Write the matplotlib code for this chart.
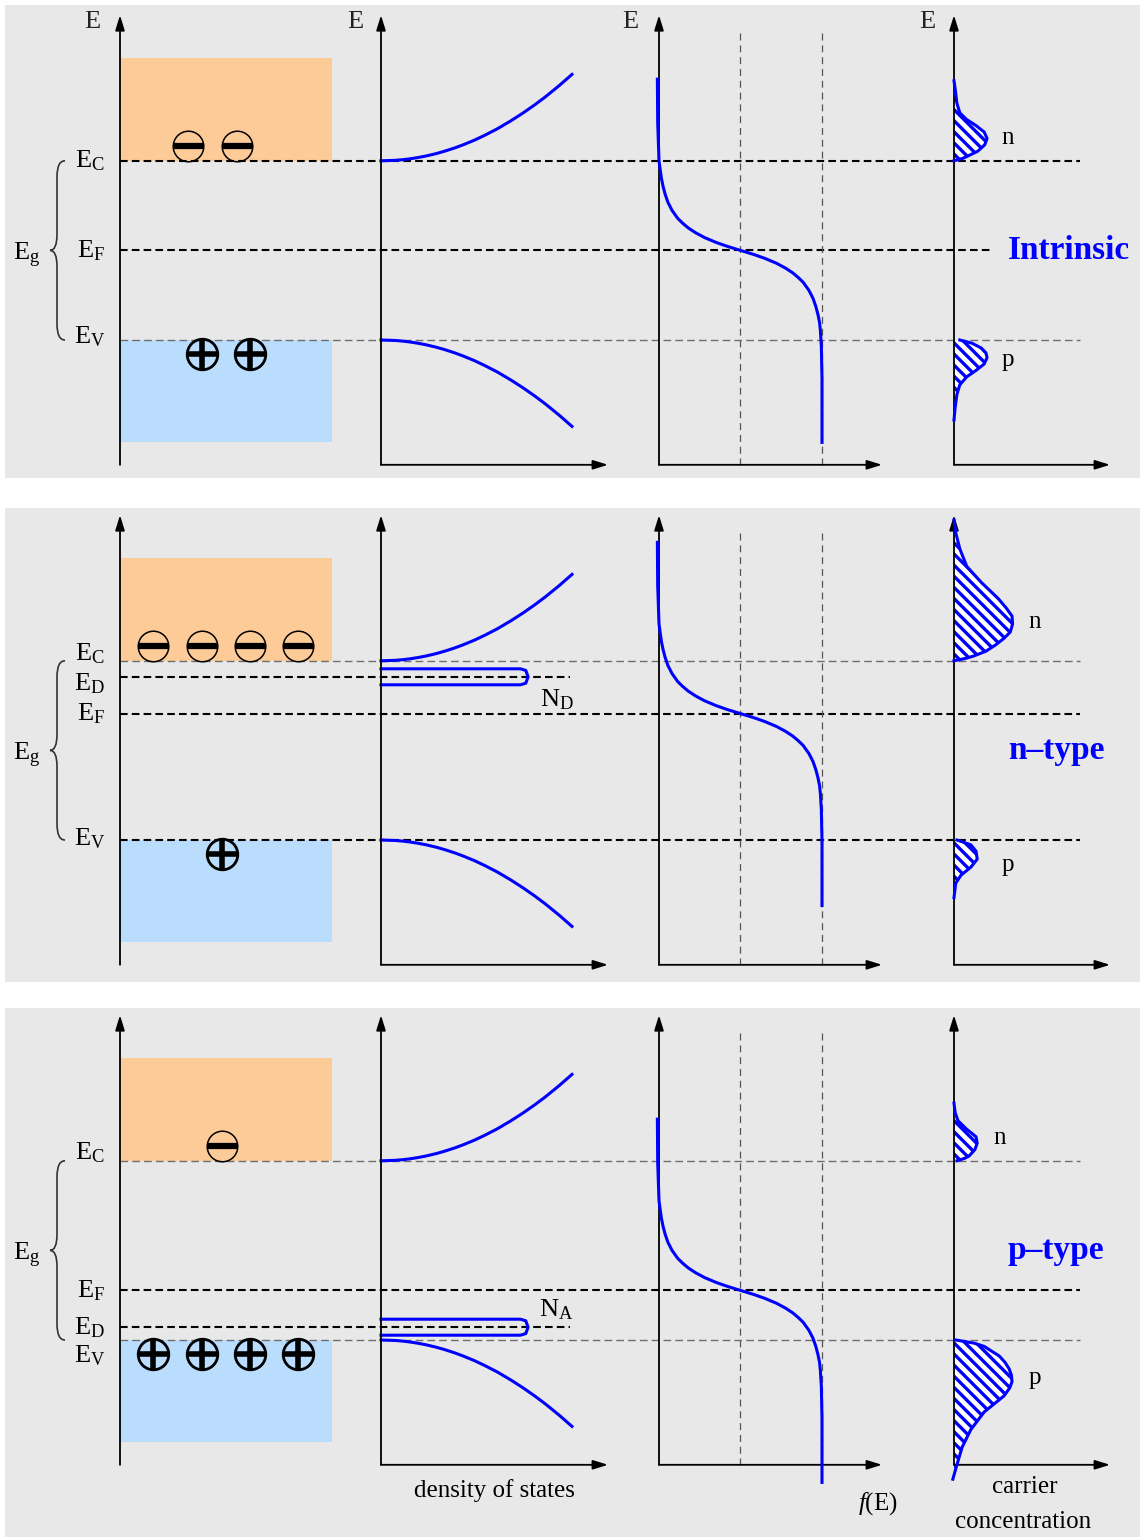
import matplotlib.pyplot as plt
from matplotlib.patches import Rectangle, PathPatch
from matplotlib.path import Path

plt.rcParams['font.family'] = ['Liberation Serif', 'DejaVu Serif']
plt.rcParams['mathtext.fontset'] = 'custom'
plt.rcParams['mathtext.rm'] = 'Liberation Serif'
plt.rcParams['mathtext.it'] = 'Liberation Serif:italic'
plt.rcParams['lines.scale_dashes'] = False
plt.rcParams['hatch.color'] = 'blue'
plt.rcParams['hatch.linewidth'] = 2.4

# ---------------- data (energies in eV, valence band edge E_V = 0) ----------------
panel_names = ['Intrinsic', 'n\u2013type', 'p\u2013type']
E_c = [1.12, 1.12, 1.12]
E_f = [0.56, 0.79, 0.31]
E_imp = [None, 1.02, 0.08]           # donor / acceptor level
imp_labels = [None, r'N$_\mathrm{D}$', r'N$_\mathrm{A}$']
imp_dos = 0.77                        # extent of impurity states (arb.)

# density of states vs distance from band edge
dos_dE = [0, 0.003, 0.007, 0.012, 0.02, 0.03, 0.045, 0.06, 0.08, 0.1, 0.13, 0.16,
          0.2, 0.25, 0.3, 0.35, 0.4, 0.47, 0.54]
dos_g = [0, 0.075, 0.114, 0.149, 0.192, 0.236, 0.289, 0.333, 0.385, 0.430, 0.491, 0.544,
         0.609, 0.680, 0.745, 0.805, 0.861, 0.933, 1.0]

# Fermi function vs E - E_F
fermi_dE = [1.07, 0.8, 0.65, 0.56, 0.5, 0.45, 0.4, 0.35, 0.3, 0.25, 0.2, 0.17, 0.14, 0.11,
            0.08, 0.05, 0.025, 0.0, -0.025, -0.05, -0.08, -0.11, -0.14, -0.17, -0.2,
            -0.25, -0.3, -0.35, -0.4, -0.45, -0.5, -0.6, -0.8, -1.2]
fermi_f = [-0.01, -0.008, -0.003, 0.0, 0.008, 0.015, 0.025, 0.038, 0.055, 0.08, 0.115,
           0.145, 0.18, 0.225, 0.28, 0.35, 0.42, 0.5, 0.58, 0.65, 0.72, 0.775, 0.82,
           0.855, 0.885, 0.92, 0.945, 0.962, 0.975, 0.985, 0.99, 0.996, 1.0, 1.0]

# carrier concentration (electrons above E_C, holes below E_V)
n_dE = [[0, 0.015, 0.03, 0.06, 0.1, 0.14, 0.18, 0.22, 0.26, 0.3, 0.36, 0.45, 0.5],
        [0, 0.015, 0.03, 0.06, 0.1, 0.14, 0.18, 0.23, 0.28, 0.33, 0.39, 0.49, 0.59, 0.7, 0.8, 0.88],
        [0, 0.015, 0.03, 0.07, 0.11, 0.15, 0.2, 0.25, 0.3, 0.36]]
n_val = [[0, 0.15, 0.24, 0.41, 0.53, 0.57, 0.52, 0.38, 0.21, 0.10, 0.05, 0.02, 0],
         [0, 0.2, 0.34, 0.55, 0.72, 0.86, 0.97, 1.01, 1.0, 0.9, 0.76, 0.47, 0.22, 0.10, 0.03, 0],
         [0.05, 0.18, 0.26, 0.36, 0.40, 0.38, 0.21, 0.07, 0.02, 0]]
p_dE = [[0, 0.02, 0.05, 0.08, 0.11, 0.15, 0.19, 0.23, 0.28, 0.34, 0.42, 0.5],
        [0, 0.03, 0.07, 0.12, 0.17, 0.22, 0.27, 0.36],
        [0, 0.02, 0.04, 0.1, 0.14, 0.18, 0.22, 0.26, 0.3, 0.35, 0.45, 0.56, 0.67, 0.78, 0.87]]
p_val = [[0.10, 0.31, 0.47, 0.55, 0.57, 0.52, 0.38, 0.22, 0.10, 0.05, 0.02, 0],
         [0.05, 0.29, 0.38, 0.40, 0.29, 0.12, 0.03, 0],
         [0.03, 0.35, 0.52, 0.78, 0.88, 0.95, 0.99, 1.0, 0.96, 0.86, 0.52, 0.29, 0.14, 0.05, -0.02]]

# electrons / holes drawn in the band diagram (x positions)
e_x = [[188, 237], [153, 202, 250, 298], [222]]
h_x = [[202, 250], [222], [153, 202, 250, 298]]

# ---------------- layout (pixels) ----------------
W, H = 1142, 1539
PX_EV = 160
X0, X1 = 5, 1140
panel_top = [5, 508, 1008]
panel_bot = [478, 982, 1537]
ev_pix = [340, 840, 1340]
AX_BOT, AX_TOP = -0.78, 2.03
BG = '#e8e8e8'
ORANGE = '#fdcb98'
LBLUE = '#badcfd'
BLUE = '#0000ff'

# per panel level label offsets and dash styles
label_rows = [
    [('C', 'c', 0.0), ('F', 'f', 0.0), ('V', 'v', 0.02)],
    [('C', 'c', 0.045), ('D', 'i', -0.045), ('F', 'f', 0.0), ('V', 'v', 0.01)],
    [('C', 'c', 0.05), ('F', 'f', 0.0), ('D', 'i', 0.0), ('V', 'v', -0.1)],
]
line_styles = [
    {'c': 'k', 'f': 'k', 'v': 'g'},
    {'c': 'g', 'i': 'k', 'f': 'k', 'v': 'k'},
    {'c': 'g', 'f': 'k', 'i': 'k', 'v': 'g'},
]
n_lab = [(1008, 0.14), (1035, 0.245), (1000, 0.145)]
p_lab = [(1008, -0.125), (1008, -0.155), (1035, -0.24)]


def arrow(ax, xa, ya, xb, yb):
    ax.annotate('', xy=(xb, yb), xytext=(xa, ya), annotation_clip=False,
                arrowprops=dict(arrowstyle='-|>,head_length=0.9,head_width=0.28',
                                color='black', lw=1.3, shrinkA=0, shrinkB=0))


def hline(ax, x_a, x_b, e, kind):
    if kind == 'k':
        ax.plot([x_a, x_b], [e, e], color='black', lw=1.5, dashes=(5.5, 3.0), zorder=2)
    else:
        ax.plot([x_a, x_b], [e, e], color='#6e6e6e', lw=1.0, dashes=(5.5, 3.0), zorder=2)


fig = plt.figure(figsize=(W / 100, H / 100), dpi=100)

for i in range(3):
    top, bot, evp = panel_top[i], panel_bot[i], ev_pix[i]
    ylim = ((evp - bot) / PX_EV, (evp - top) / PX_EV)
    ax = fig.add_axes([X0 / W, 1 - bot / H, (X1 - X0) / W, (bot - top) / H])
    ax.set_xlim(X0, X1)
    ax.set_ylim(*ylim)
    ax.axis('off')
    ax.add_patch(Rectangle((X0, ylim[0]), X1 - X0, ylim[1] - ylim[0], color=BG, zorder=0))

    ec, ef, ev = E_c[i], E_f[i], 0.0
    levels = {'c': ec, 'f': ef, 'v': ev, 'i': E_imp[i]}

    # bands
    ax.add_patch(Rectangle((120, ec), 212, 0.64, color=ORANGE, lw=0, zorder=1))
    ax.add_patch(Rectangle((120, ev - 0.64), 212, 0.64, color=LBLUE, lw=0, zorder=1))

    # level lines
    for key, kind in line_styles[i].items():
        e = levels[key]
        if key == 'i':
            x_end = 570
        elif i == 0 and key == 'f':
            x_end = 990
        else:
            x_end = 1080
        hline(ax, 120, x_end, e, kind)

    # level labels
    for sub, key, off in label_rows[i]:
        ax.text(105, levels[key] + off, r'E$_\mathrm{%s}$' % sub, fontsize=19,
                ha='right', va='center', zorder=5)

    # band gap brace
    mid = ec / 2
    d = 0.1
    verts = [(65, ec), (57, ec), (57, ec - d), (57, mid + d), (57, mid), (50, mid),
             (57, mid), (57, mid - d), (57, ev + d), (57, ev), (65, ev)]
    codes = [Path.MOVETO, Path.CURVE3, Path.CURVE3, Path.LINETO, Path.CURVE3, Path.CURVE3,
             Path.CURVE3, Path.CURVE3, Path.LINETO, Path.CURVE3, Path.CURVE3]
    ax.add_patch(PathPatch(Path(verts, codes), fill=False, lw=1.2, color='#333333', zorder=3))
    ax.text(27, mid - 0.03, r'E$_\mathrm{g}$', fontsize=19, ha='center', va='center')

    # electrons and holes
    ey = [ec + 0.09] * len(e_x[i])
    hy = [ev - 0.09] * len(h_x[i])
    ax.plot(e_x[i], ey, 'o', ms=22, mfc='none', mec='black', mew=1.1, zorder=4)
    ax.plot(e_x[i], ey, '_', ms=22, mew=4.5, color='black', zorder=4)
    ax.plot(h_x[i], hy, 'o', ms=22, mfc='none', mec='black', mew=2.0, zorder=4)
    ax.plot(h_x[i], hy, '+', ms=22, mew=4.0, color='black', zorder=4)

    # first column axis
    arrow(ax, 120, AX_BOT, 120, AX_TOP)

    # type label
    ax.text(1008, mid, panel_names[i], fontsize=24, fontweight='bold', color=BLUE,
            ha='left', va='center', zorder=5)

    if i == 0:
        for xe in [92, 355, 630, 927]:
            ax.text(xe, 1.99, 'E', fontsize=19, ha='center', va='center', color='#222222')

    pad = 40

    def col_axes(xpix, wpix, ppu):
        ca = fig.add_axes([(xpix - pad) / W, 1 - bot / H, (wpix + 2 * pad) / W, (bot - top) / H])
        ca.set_xlim(-pad / ppu, (wpix + pad) / ppu)
        ca.set_ylim(*ylim)
        ca.axis('off')
        arrow(ca, 0, AX_BOT, 0, AX_TOP)
        arrow(ca, 0, AX_BOT, wpix / ppu, AX_BOT)
        return ca

    # ---------- density of states column ----------
    ad = col_axes(381, 227, 191)
    ad.plot(dos_g, [ec + e for e in dos_dE], color=BLUE, lw=2.2)
    ad.plot(dos_g, [ev - e for e in dos_dE], color=BLUE, lw=2.2)
    if E_imp[i] is not None:
        ei = E_imp[i]
        h = 0.05
        L = imp_dos - 0.04
        ad.plot([0, L, L + 0.028, imp_dos, L + 0.028, L, 0],
                [ei + h, ei + h, ei + 0.8 * h, ei, ei - 0.8 * h, ei - h, ei - h],
                color=BLUE, lw=2.2, solid_joinstyle='round')
        off = -0.14 if i == 1 else 0.11
        ad.text(imp_dos + 0.15, ei + off, imp_labels[i], fontsize=19, ha='center', va='center')

    # ---------- Fermi function column ----------
    af = col_axes(659, 223, 163)
    for fx in [0.5, 1.0]:
        af.plot([fx, fx], [AX_BOT, 1.92], color='#555555', lw=0.9, dashes=(5, 3.5))
    af.plot(fermi_f, [ef + e for e in fermi_dE], color=BLUE, lw=2.2, zorder=5)

    # ---------- carrier concentration column ----------
    ac = col_axes(954, 156, 58)
    ny = [ec + e for e in n_dE[i]]
    py = [ev - e for e in p_dE[i]]
    for xs, ys in [(n_val[i], ny), (p_val[i], py)]:
        ac.fill_betweenx(ys, 0, xs, facecolor='white', edgecolor=BLUE, hatch='\\\\\\',
                         lw=0, zorder=2)
        ac.plot(xs, ys, color=BLUE, lw=2.2, zorder=3)
    ac.text((n_lab[i][0] - 954) / 58, ec + n_lab[i][1], 'n', fontsize=18, ha='center', va='center')
    ac.text((p_lab[i][0] - 954) / 58, ev + p_lab[i][1], 'p', fontsize=18, ha='center', va='center')

    if i == 2:
        ad.text((494 - 381) / 191, -0.94, 'density of states', fontsize=18, ha='center', va='center')
        af.text((878 - 659) / 163, -1.02, r'$\mathit{f}$(E)', fontsize=18, ha='center', va='center')
        ac.text((1025 - 954) / 58, -0.92, 'carrier', fontsize=18, ha='center', va='center')
        ac.text((1023 - 954) / 58, -1.14, 'concentration', fontsize=18, ha='center', va='center')

fig.savefig('out.png', dpi=100, facecolor='white')
